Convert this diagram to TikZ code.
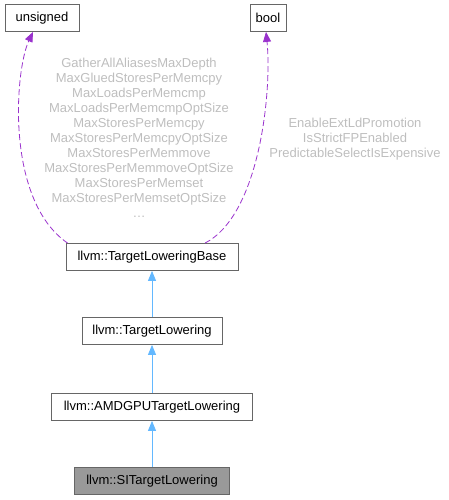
\documentclass[tikz,border=0pt]{standalone}
\usepackage{fontspec}
\setmainfont{Liberation Sans}
\usetikzlibrary{arrows.meta,positioning,calc}
\definecolor{boxline}{HTML}{666666}
\definecolor{curfill}{HTML}{999999}
\definecolor{inhblue}{HTML}{63B8FF}
\definecolor{usepurple}{HTML}{9A32CD}
\definecolor{lblgrey}{HTML}{BEBEBE}

\begin{document}
\begin{tikzpicture}[x=1pt,y=-1pt,
  classbox/.style={draw=boxline, line width=0.8pt, fill=white, inner sep=0pt,
    minimum height=27pt, font=\fontsize{13}{15}\selectfont},
  inherit/.style={draw=inhblue, line width=0.8pt, -{Triangle[length=10pt,width=8pt]}},
  usage/.style={draw=usepurple, line width=0.8pt, dashed, dash pattern=on 6pt off 3pt,
    -{Triangle[length=10pt,width=8pt]}},
  edgelabel/.style={text=lblgrey, align=center, inner sep=0pt,
    font=\fontsize{13}{15}\selectfont}]
  \useasboundingbox (0,0) rectangle (448,500);
  \node[classbox, minimum width=74pt] (unsigned) at (42,18) {unsigned};
  \node[classbox, minimum width=36pt] (bool) at (268,18) {bool};
  \node[classbox, minimum width=172pt] (tlb) at (152,257) {llvm::TargetLoweringBase};
  \node[classbox, minimum width=140pt] (tl) at (152,331) {llvm::TargetLowering};
  \node[classbox, minimum width=201pt] (amdgpu) at (152,407) {llvm::AMDGPUTargetLowering};
  \node[classbox, minimum width=155pt, fill=curfill] (si) at (152,481) {llvm::SITargetLowering};
  % inheritance
  \draw[inherit] (si) -- (amdgpu);
  \draw[inherit] (amdgpu) -- (tl);
  \draw[inherit] (tl) -- (tlb);
  % member usage
  \draw[usage] ([xshift=2pt]tlb.north west) .. controls (5,200) and (15,70) .. ([xshift=-9pt]unsigned.south);
  \draw[usage] ([xshift=53pt]tlb.north) .. controls (260,215) and (272,90) .. ([xshift=-2pt]bool.south);
  \node[edgelabel] (ulabel) at (139,138) {GatherAllAliasesMaxDepth\\MaxGluedStoresPerMemcpy\\MaxLoadsPerMemcmp\\MaxLoadsPerMemcmpOptSize\\MaxStoresPerMemcpy\\MaxStoresPerMemcpyOptSize\\MaxStoresPerMemmove\\MaxStoresPerMemmoveOptSize\\MaxStoresPerMemset\\MaxStoresPerMemsetOptSize\\\ldots};
  \node[edgelabel] (blabel) at (355,139) {EnableExtLdPromotion\\IsStrictFPEnabled\\PredictableSelectIsExpensive};
\end{tikzpicture}
\end{document}
